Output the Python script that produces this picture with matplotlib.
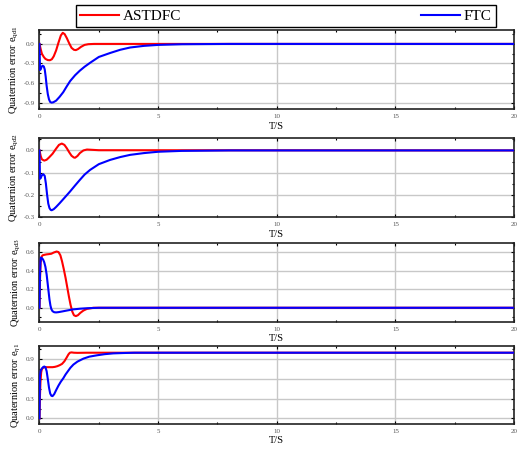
import matplotlib
matplotlib.use("Agg")
import matplotlib.pyplot as plt
from matplotlib.ticker import MultipleLocator, FormatStrFormatter

plt.rcParams["font.family"] = ["Liberation Serif", "DejaVu Serif"]
plt.rcParams["mathtext.fontset"] = "custom"
plt.rcParams["mathtext.rm"] = "Liberation Serif"
plt.rcParams["mathtext.it"] = "Liberation Serif:italic"

# ---------------------------------------------------------------------------
# Data (time in s)
# ---------------------------------------------------------------------------

t_red_q1 = [0, 0.05, 0.1, 0.18, 0.25, 0.35, 0.44, 0.52, 0.6, 0.7, 0.8, 0.9, 0.98, 1.06, 1.15,
            1.25, 1.35, 1.45, 1.53, 1.62, 1.75, 1.9, 2.06, 2.3, 2.6, 20]
red_q1 = [0, -0.08, -0.15, -0.2, -0.23, -0.248, -0.25, -0.235, -0.19, -0.1, 0.02, 0.13, 0.17,
          0.15, 0.09, 0.01, -0.06, -0.09, -0.095, -0.08, -0.045, -0.015, -0.004, 0, 0, 0]
t_blue_q1 = [0, 0.02, 0.05, 0.09, 0.13, 0.18, 0.22, 0.26, 0.3, 0.35, 0.4, 0.45, 0.51, 0.58, 0.7,
             0.85, 1.0, 1.15, 1.29, 1.5, 1.7, 1.9, 2.13, 2.5, 2.97, 3.4, 3.82, 4.4, 5, 6, 8, 20]
blue_q1 = [0, -0.40, -0.39, -0.35, -0.335, -0.345, -0.39, -0.5, -0.64, -0.77, -0.85, -0.89,
           -0.90, -0.895, -0.87, -0.81, -0.74, -0.65, -0.57, -0.48, -0.41, -0.35, -0.29, -0.2,
           -0.14, -0.09, -0.055, -0.03, -0.015, -0.005, 0, 0]

t_red_q2 = [0, 0.05, 0.1, 0.2, 0.3, 0.4, 0.55, 0.7, 0.82, 0.94, 1.05, 1.15, 1.25, 1.35, 1.45,
            1.5, 1.6, 1.7, 1.85, 2.0, 2.5, 20]
red_q2 = [0, -0.025, -0.04, -0.046, -0.042, -0.032, -0.015, 0.008, 0.025, 0.031, 0.025, 0.01,
          -0.008, -0.024, -0.032, -0.033, -0.025, -0.012, 0.0, 0.004, 0.001, 0]
t_blue_q2 = [0, 0.02, 0.05, 0.1, 0.16, 0.22, 0.27, 0.32, 0.37, 0.42, 0.47, 0.51, 0.6, 0.7, 0.85,
             1.0, 1.15, 1.29, 1.5, 1.7, 1.9, 2.13, 2.5, 2.97, 3.4, 3.82, 4.4, 5, 6, 8, 20]
blue_q2 = [0, -0.128, -0.125, -0.112, -0.107, -0.115, -0.15, -0.2, -0.24, -0.26, -0.268, -0.27,
           -0.265, -0.255, -0.238, -0.22, -0.202, -0.185, -0.158, -0.133, -0.109, -0.088, -0.062,
           -0.043, -0.03, -0.02, -0.012, -0.006, -0.002, 0, 0]

t_red_q3 = [0, 0.02, 0.05, 0.09, 0.13, 0.2, 0.3, 0.4, 0.5, 0.6, 0.72, 0.8, 0.88, 0.95, 1.02,
            1.1, 1.17, 1.24, 1.31, 1.38, 1.45, 1.53, 1.62, 1.72, 1.85, 2.0, 2.27, 20]
red_q3 = [0, 0.3, 0.5, 0.55, 0.565, 0.57, 0.575, 0.578, 0.582, 0.595, 0.606, 0.6, 0.565, 0.5,
          0.42, 0.32, 0.22, 0.12, 0.03, -0.04, -0.08, -0.09, -0.08, -0.055, -0.03, -0.012, 0, 0]
t_blue_q3 = [0, 0.02, 0.04, 0.06, 0.1, 0.15, 0.2, 0.25, 0.3, 0.34, 0.38, 0.42, 0.46, 0.5, 0.55,
             0.62, 0.7, 0.8, 0.95, 1.15, 1.4, 1.71, 2.0, 2.5, 20]
blue_q3 = [0, 0.35, 0.5, 0.54, 0.535, 0.52, 0.49, 0.44, 0.36, 0.27, 0.18, 0.09, 0.025, -0.015,
           -0.037, -0.048, -0.05, -0.047, -0.04, -0.03, -0.018, -0.01, -0.005, 0, 0]

t_red_eta = [0, 0.02, 0.04, 0.07, 0.1, 0.15, 0.23, 0.35, 0.45, 0.55, 0.65, 0.75, 0.85, 0.95,
             1.05, 1.15, 1.22, 1.28, 1.35, 1.45, 1.6, 2.0, 20]
red_eta = [0, 0.35, 0.55, 0.7, 0.75, 0.77, 0.78, 0.78, 0.78, 0.78, 0.785, 0.795, 0.81, 0.83,
           0.87, 0.93, 0.975, 1.0, 1.005, 1.0, 0.998, 1.0, 1.0]
t_blue_eta = [0, 0.02, 0.05, 0.1, 0.15, 0.2, 0.25, 0.3, 0.35, 0.4, 0.45, 0.5, 0.55, 0.62, 0.7,
              0.8, 0.9, 1.0, 1.1, 1.2, 1.3, 1.43, 1.6, 1.85, 2.1, 2.41, 2.75, 3.11, 3.5, 4.0, 20]
blue_eta = [0, 0.65, 0.73, 0.76, 0.78, 0.79, 0.78, 0.72, 0.6, 0.47, 0.38, 0.345, 0.34, 0.37,
            0.43, 0.5, 0.56, 0.61, 0.67, 0.72, 0.77, 0.82, 0.865, 0.91, 0.94, 0.96, 0.978, 0.99,
            0.995, 1.0, 1.0]

ylabels = [r"Quaternion error e$_{\mathrm{qd1}}$", r"Quaternion error e$_{\mathrm{qd2}}$",
           r"Quaternion error e$_{\mathrm{qd3}}$", r"Quaternion error e$_{\eta\mathrm{1}}$"]
ylims = [(-1.0, 0.21), (-0.3, 0.054), (-0.15, 0.7), (-0.08, 1.1)]
ymajor = [0.3, 0.1, 0.2, 0.3]

series = [
    (t_red_q1, red_q1, t_blue_q1, blue_q1),
    (t_red_q2, red_q2, t_blue_q2, blue_q2),
    (t_red_q3, red_q3, t_blue_q3, blue_q3),
    (t_red_eta, red_eta, t_blue_eta, blue_eta),
]

# axes placement (figure fraction): bottom, height
boxes = [(0.758, 0.175), (0.519, 0.174), (0.2867, 0.175), (0.0605, 0.172)]

fig = plt.figure(figsize=(5.17, 4.51), dpi=100)

for i, (tr, yr, tb, yb) in enumerate(series):
    bottom, height = boxes[i]
    ax = fig.add_axes([0.0764, bottom, 0.918, height])
    l1, = ax.plot(tr, yr, color="#ff0000", lw=1.5, label="ASTDFC", zorder=3)
    l2, = ax.plot(tb, yb, color="#0000ff", lw=1.5, label="FTC", zorder=3)
    ax.set_xlim(0, 20)
    ax.set_ylim(*ylims[i])
    ax.xaxis.set_major_locator(MultipleLocator(5))
    ax.xaxis.set_minor_locator(MultipleLocator(2.5))
    ax.yaxis.set_major_locator(MultipleLocator(ymajor[i]))
    ax.yaxis.set_minor_locator(MultipleLocator(ymajor[i] / 2))
    ax.yaxis.set_major_formatter(FormatStrFormatter("%.1f"))
    ax.grid(True, which="major", color="#c8c8c8", lw=1.0)
    ax.set_axisbelow(True)
    ax.tick_params(which="both", direction="in", top=True, right=True,
                   labelsize=5, labelcolor="#555555", width=0.8)
    ax.tick_params(which="major", length=2.5)
    ax.tick_params(which="minor", length=1.5)
    for sp in ax.spines.values():
        sp.set_linewidth(1.2)
        sp.set_color("#222222")
    ax.set_xlabel("T/S", fontsize=7.5, labelpad=2)
    ax.set_ylabel(ylabels[i], fontsize=7.5, labelpad=2)

leg = fig.legend([l1, l2], ["ASTDFC", "FTC"], loc="upper left", ncol=2,
                 bbox_to_anchor=(75.7 / 517, 1 - 5.0 / 451), fontsize=11,
                 handlelength=2.55, handletextpad=0.25, columnspacing=15.7,
                 borderpad=0.28, borderaxespad=0, fancybox=False, framealpha=1)
leg.get_frame().set_edgecolor("black")
leg.get_frame().set_linewidth(1.0)

fig.savefig("out.png", dpi=100)
